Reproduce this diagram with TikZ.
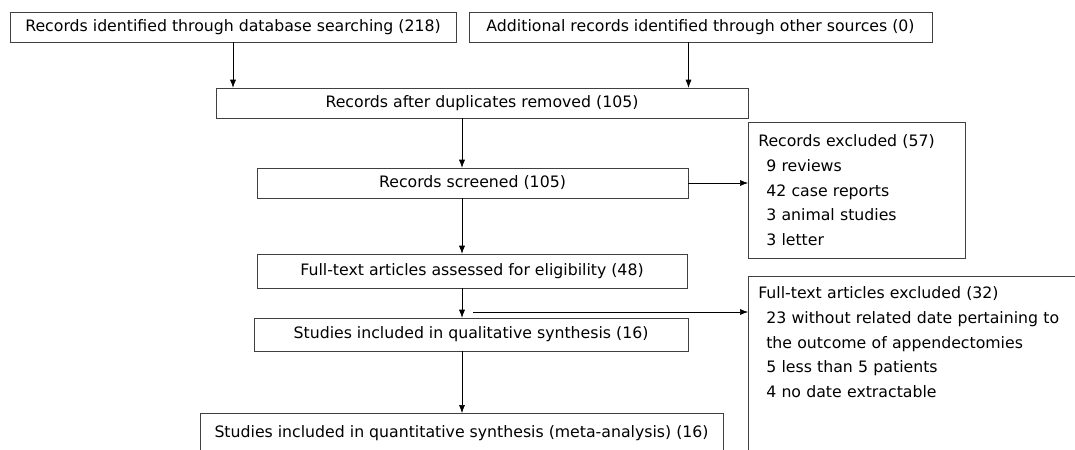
\documentclass[tikz,border=0pt]{standalone}
\usepackage{fontspec}
\setmainfont{DejaVu Sans}
\usetikzlibrary{arrows.meta}
\newcommand{\subit}{\hspace*{6pt}}

\begin{document}
\begin{tikzpicture}[x=0.75pt, y=-0.75pt, >={Latex[length=6pt,width=4.5pt]},
  box/.style={draw=black!75, inner sep=0pt, text=black, font=\fontsize{11.8}{18.5}\selectfont},
  listbox/.style={box, anchor=north west, align=left, inner xsep=7.5pt, inner ysep=5pt}]
\useasboundingbox (0,0) rectangle (1075,450);
\clip (0,0) rectangle (1075,450);

% identification
\node[box, minimum width=334.5pt, minimum height=22.5pt] (dbase) at (233,27) {Records identified through database searching (218)};
\node[box, minimum width=347.25pt, minimum height=22.5pt] (other) at (700.5,27) {Additional records identified through other sources (0)};
\node[box, minimum width=399pt, minimum height=22.5pt] (dupl) at (482,103) {Records after duplicates removed (105)};

% screening
\node[box, minimum width=323.25pt, minimum height=22.5pt] (screen) at (472.5,183) {Records screened (105)};
\node[listbox, text width=147.75pt, minimum height=102pt] (recex) at (748,122) {Records excluded (57)\\
  \subit 9 reviews\\ \subit 42 case reports\\ \subit 3 animal studies\\ \subit 3 letter};

% eligibility
\node[box, minimum width=322.5pt, minimum height=25.5pt] (full) at (472,271) {Full-text articles assessed for eligibility (48)};
\node[listbox, text width=300pt, inner ysep=8pt] (fullex) at (748,276) {Full-text articles excluded (32)\\
  \subit 23 without related date pertaining to\\ \subit the outcome of appendectomies\\
  \subit 5 less than 5 patients\\ \subit 4 no date extractable\\[50pt] \strut};

% included
\node[box, minimum width=325.5pt, minimum height=24.75pt] (quali) at (471,334.5) {Studies included in qualitative synthesis (16)};
\node[box, anchor=north, minimum width=392.25pt, inner ysep=4.5pt, text height=13.5pt, text depth=40pt] (quanti) at (461.5,413) {Studies included in quantitative synthesis (meta-analysis) (16)};

\coordinate (col) at (462,0);
\coordinate (split) at (473,312);

\draw[->] (dbase.south) -- (dbase.south |- dupl.north);
\draw[->] ([xshift=-9pt]other.south) -- ([xshift=-9pt]other.south |- dupl.north);
\draw[->] (dupl.south -| col) -- (screen.north -| col);
\draw[->] (screen.east) -- (screen.east -| recex.west);
\draw[->] (screen.south -| col) -- (full.north -| col);
\draw[->] (full.south -| col) -- (quali.north -| col);
\draw[->] (split) -- (split -| fullex.west);
\draw[->] (quali.south -| col) -- (quanti.north -| col);

\end{tikzpicture}
\end{document}
